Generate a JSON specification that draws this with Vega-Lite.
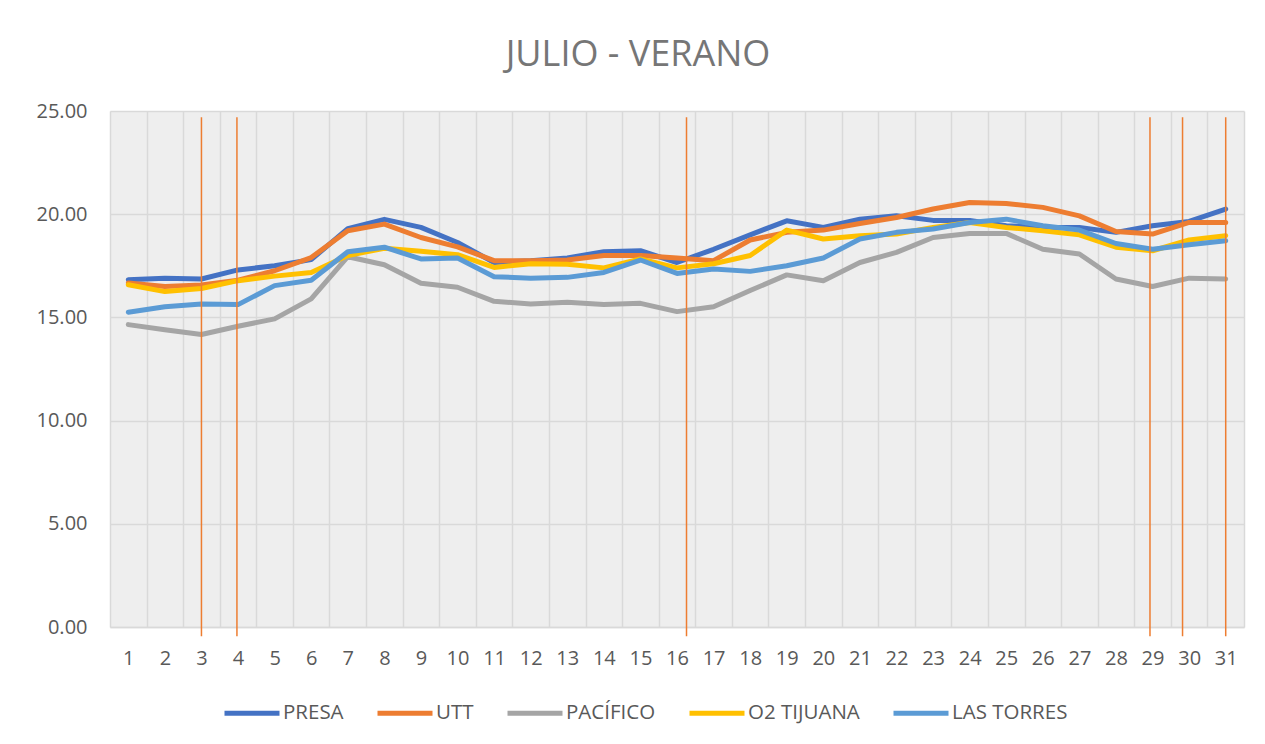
{
  "$schema": "https://vega.github.io/schema/vega-lite/v6.json",
  "width": 1134,
  "height": 516,
  "autosize": {"type": "none"},
  "padding": {"left": 110, "top": 111, "right": 21, "bottom": 117},
  "background": "white",
  "title": {"text": "JULIO - VERANO", "fontSize": 36, "font": "Open Sans", "fontWeight": "normal", "color": "#767676", "offset": 27, "anchor": "middle", "frame": "group", "dx": -39},
  "config": {"view": {"stroke": null, "fill": "#EEEEEE"}, "font": "Open Sans"},
  "datasets": {
    "temps": [
      {"dia":1,"estacion":"PRESA","t":16.83},{"dia":2,"estacion":"PRESA","t":16.9},{"dia":3,"estacion":"PRESA","t":16.86},{"dia":4,"estacion":"PRESA","t":17.3},{"dia":5,"estacion":"PRESA","t":17.5},{"dia":6,"estacion":"PRESA","t":17.8},{"dia":7,"estacion":"PRESA","t":19.3},{"dia":8,"estacion":"PRESA","t":19.75},{"dia":9,"estacion":"PRESA","t":19.36},{"dia":10,"estacion":"PRESA","t":18.63},{"dia":11,"estacion":"PRESA","t":17.66},{"dia":12,"estacion":"PRESA","t":17.75},{"dia":13,"estacion":"PRESA","t":17.88},{"dia":14,"estacion":"PRESA","t":18.18},{"dia":15,"estacion":"PRESA","t":18.23},{"dia":16,"estacion":"PRESA","t":17.66},{"dia":17,"estacion":"PRESA","t":18.3},{"dia":18,"estacion":"PRESA","t":19.0},{"dia":19,"estacion":"PRESA","t":19.68},{"dia":20,"estacion":"PRESA","t":19.36},{"dia":21,"estacion":"PRESA","t":19.76},{"dia":22,"estacion":"PRESA","t":19.92},{"dia":23,"estacion":"PRESA","t":19.7},{"dia":24,"estacion":"PRESA","t":19.7},{"dia":25,"estacion":"PRESA","t":19.44},{"dia":26,"estacion":"PRESA","t":19.36},{"dia":27,"estacion":"PRESA","t":19.36},{"dia":28,"estacion":"PRESA","t":19.12},{"dia":29,"estacion":"PRESA","t":19.44},{"dia":30,"estacion":"PRESA","t":19.65},{"dia":31,"estacion":"PRESA","t":20.25},
      {"dia":1,"estacion":"UTT","t":16.67},{"dia":2,"estacion":"UTT","t":16.5},{"dia":3,"estacion":"UTT","t":16.57},{"dia":4,"estacion":"UTT","t":16.8},{"dia":5,"estacion":"UTT","t":17.26},{"dia":6,"estacion":"UTT","t":17.9},{"dia":7,"estacion":"UTT","t":19.2},{"dia":8,"estacion":"UTT","t":19.52},{"dia":9,"estacion":"UTT","t":18.87},{"dia":10,"estacion":"UTT","t":18.42},{"dia":11,"estacion":"UTT","t":17.75},{"dia":12,"estacion":"UTT","t":17.75},{"dia":13,"estacion":"UTT","t":17.78},{"dia":14,"estacion":"UTT","t":18.0},{"dia":15,"estacion":"UTT","t":18.0},{"dia":16,"estacion":"UTT","t":17.88},{"dia":17,"estacion":"UTT","t":17.75},{"dia":18,"estacion":"UTT","t":18.75},{"dia":19,"estacion":"UTT","t":19.12},{"dia":20,"estacion":"UTT","t":19.23},{"dia":21,"estacion":"UTT","t":19.55},{"dia":22,"estacion":"UTT","t":19.84},{"dia":23,"estacion":"UTT","t":20.25},{"dia":24,"estacion":"UTT","t":20.57},{"dia":25,"estacion":"UTT","t":20.52},{"dia":26,"estacion":"UTT","t":20.33},{"dia":27,"estacion":"UTT","t":19.92},{"dia":28,"estacion":"UTT","t":19.16},{"dia":29,"estacion":"UTT","t":19.04},{"dia":30,"estacion":"UTT","t":19.6},{"dia":31,"estacion":"UTT","t":19.6},
      {"dia":1,"estacion":"PACÍFICO","t":14.65},{"dia":2,"estacion":"PACÍFICO","t":14.4},{"dia":3,"estacion":"PACÍFICO","t":14.17},{"dia":4,"estacion":"PACÍFICO","t":14.57},{"dia":5,"estacion":"PACÍFICO","t":14.93},{"dia":6,"estacion":"PACÍFICO","t":15.9},{"dia":7,"estacion":"PACÍFICO","t":17.94},{"dia":8,"estacion":"PACÍFICO","t":17.55},{"dia":9,"estacion":"PACÍFICO","t":16.65},{"dia":10,"estacion":"PACÍFICO","t":16.46},{"dia":11,"estacion":"PACÍFICO","t":15.78},{"dia":12,"estacion":"PACÍFICO","t":15.65},{"dia":13,"estacion":"PACÍFICO","t":15.73},{"dia":14,"estacion":"PACÍFICO","t":15.62},{"dia":15,"estacion":"PACÍFICO","t":15.68},{"dia":16,"estacion":"PACÍFICO","t":15.28},{"dia":17,"estacion":"PACÍFICO","t":15.52},{"dia":18,"estacion":"PACÍFICO","t":16.3},{"dia":19,"estacion":"PACÍFICO","t":17.06},{"dia":20,"estacion":"PACÍFICO","t":16.78},{"dia":21,"estacion":"PACÍFICO","t":17.66},{"dia":22,"estacion":"PACÍFICO","t":18.15},{"dia":23,"estacion":"PACÍFICO","t":18.87},{"dia":24,"estacion":"PACÍFICO","t":19.07},{"dia":25,"estacion":"PACÍFICO","t":19.07},{"dia":26,"estacion":"PACÍFICO","t":18.3},{"dia":27,"estacion":"PACÍFICO","t":18.07},{"dia":28,"estacion":"PACÍFICO","t":16.86},{"dia":29,"estacion":"PACÍFICO","t":16.5},{"dia":30,"estacion":"PACÍFICO","t":16.9},{"dia":31,"estacion":"PACÍFICO","t":16.86},
      {"dia":1,"estacion":"O2 TIJUANA","t":16.58},{"dia":2,"estacion":"O2 TIJUANA","t":16.25},{"dia":3,"estacion":"O2 TIJUANA","t":16.4},{"dia":4,"estacion":"O2 TIJUANA","t":16.78},{"dia":5,"estacion":"O2 TIJUANA","t":17.0},{"dia":6,"estacion":"O2 TIJUANA","t":17.18},{"dia":7,"estacion":"O2 TIJUANA","t":18.0},{"dia":8,"estacion":"O2 TIJUANA","t":18.35},{"dia":9,"estacion":"O2 TIJUANA","t":18.2},{"dia":10,"estacion":"O2 TIJUANA","t":18.04},{"dia":11,"estacion":"O2 TIJUANA","t":17.42},{"dia":12,"estacion":"O2 TIJUANA","t":17.6},{"dia":13,"estacion":"O2 TIJUANA","t":17.58},{"dia":14,"estacion":"O2 TIJUANA","t":17.4},{"dia":15,"estacion":"O2 TIJUANA","t":17.83},{"dia":16,"estacion":"O2 TIJUANA","t":17.4},{"dia":17,"estacion":"O2 TIJUANA","t":17.6},{"dia":18,"estacion":"O2 TIJUANA","t":18.0},{"dia":19,"estacion":"O2 TIJUANA","t":19.23},{"dia":20,"estacion":"O2 TIJUANA","t":18.8},{"dia":21,"estacion":"O2 TIJUANA","t":18.96},{"dia":22,"estacion":"O2 TIJUANA","t":19.04},{"dia":23,"estacion":"O2 TIJUANA","t":19.36},{"dia":24,"estacion":"O2 TIJUANA","t":19.6},{"dia":25,"estacion":"O2 TIJUANA","t":19.36},{"dia":26,"estacion":"O2 TIJUANA","t":19.2},{"dia":27,"estacion":"O2 TIJUANA","t":19.0},{"dia":28,"estacion":"O2 TIJUANA","t":18.4},{"dia":29,"estacion":"O2 TIJUANA","t":18.23},{"dia":30,"estacion":"O2 TIJUANA","t":18.75},{"dia":31,"estacion":"O2 TIJUANA","t":18.96},
      {"dia":1,"estacion":"LAS TORRES","t":15.25},{"dia":2,"estacion":"LAS TORRES","t":15.52},{"dia":3,"estacion":"LAS TORRES","t":15.65},{"dia":4,"estacion":"LAS TORRES","t":15.62},{"dia":5,"estacion":"LAS TORRES","t":16.54},{"dia":6,"estacion":"LAS TORRES","t":16.8},{"dia":7,"estacion":"LAS TORRES","t":18.18},{"dia":8,"estacion":"LAS TORRES","t":18.4},{"dia":9,"estacion":"LAS TORRES","t":17.83},{"dia":10,"estacion":"LAS TORRES","t":17.88},{"dia":11,"estacion":"LAS TORRES","t":16.97},{"dia":12,"estacion":"LAS TORRES","t":16.9},{"dia":13,"estacion":"LAS TORRES","t":16.94},{"dia":14,"estacion":"LAS TORRES","t":17.18},{"dia":15,"estacion":"LAS TORRES","t":17.78},{"dia":16,"estacion":"LAS TORRES","t":17.13},{"dia":17,"estacion":"LAS TORRES","t":17.35},{"dia":18,"estacion":"LAS TORRES","t":17.23},{"dia":19,"estacion":"LAS TORRES","t":17.5},{"dia":20,"estacion":"LAS TORRES","t":17.88},{"dia":21,"estacion":"LAS TORRES","t":18.8},{"dia":22,"estacion":"LAS TORRES","t":19.12},{"dia":23,"estacion":"LAS TORRES","t":19.28},{"dia":24,"estacion":"LAS TORRES","t":19.6},{"dia":25,"estacion":"LAS TORRES","t":19.76},{"dia":26,"estacion":"LAS TORRES","t":19.44},{"dia":27,"estacion":"LAS TORRES","t":19.23},{"dia":28,"estacion":"LAS TORRES","t":18.58},{"dia":29,"estacion":"LAS TORRES","t":18.3},{"dia":30,"estacion":"LAS TORRES","t":18.52},{"dia":31,"estacion":"LAS TORRES","t":18.71}
    ],
    "marcas": [{"dia": 3.0}, {"dia": 3.97}, {"dia": 16.26}, {"dia": 28.93}, {"dia": 29.82}, {"dia": 31.0}]
  },
  "layer": [
    {
      "data": {"name": "temps"},
      "mark": {"type": "line", "strokeWidth": 5, "strokeJoin": "round", "strokeCap": "round"},
      "encoding": {
        "x": {"field": "dia", "type": "ordinal", "scale": {"paddingInner": 0, "paddingOuter": 0},
          "axis": {"title": null, "labelAngle": 0, "tickBand": "extent", "grid": true, "gridColor": "#D9D9D9", "gridWidth": 1.5, "ticks": false, "tickSize": 0, "domainColor": "#D9D9D9", "domainWidth": 1.5, "labelFontSize": 20, "labelColor": "#595959", "labelPadding": 21, "labelFont": "Open Sans"}},
        "y": {"field": "t", "type": "quantitative", "scale": {"domain": [0, 25], "nice": false},
          "axis": {"title": null, "values": [0, 5, 10, 15, 20, 25], "format": ".2f", "grid": true, "gridColor": "#D9D9D9", "gridWidth": 1.5, "ticks": false, "tickSize": 0, "domain": false, "labelFontSize": 20, "labelColor": "#595959", "labelPadding": 23, "labelFont": "Open Sans"}},
        "color": {"field": "estacion", "type": "nominal",
          "scale": {"domain": ["PRESA", "UTT", "PACÍFICO", "O2 TIJUANA", "LAS TORRES"], "range": ["#4472C4", "#ED7D31", "#A5A5A5", "#FFC000", "#5B9BD5"]},
          "legend": {"title": null, "orient": "none", "legendX": 112, "legendY": 572, "direction": "horizontal", "symbolType": "stroke", "symbolSize": 3025, "symbolStrokeWidth": 5, "labelFontSize": 20.5, "labelColor": "#595959", "labelFont": "Open Sans", "labelOffset": 1, "columnPadding": 23, "padding": 0}}
      }
    },
    {
      "data": {"name": "marcas"},
      "mark": {"type": "rule", "color": "#ED7D31", "strokeWidth": 1.5},
      "encoding": {
        "x": {"field": "dia", "type": "quantitative", "scale": {"domain": [0.5, 31.5], "nice": false, "zero": false}, "axis": null},
        "y": {"datum": 24.7, "type": "quantitative"},
        "y2": {"datum": -0.45}
      }
    }
  ],
  "resolve": {"scale": {"x": "independent"}}
}
